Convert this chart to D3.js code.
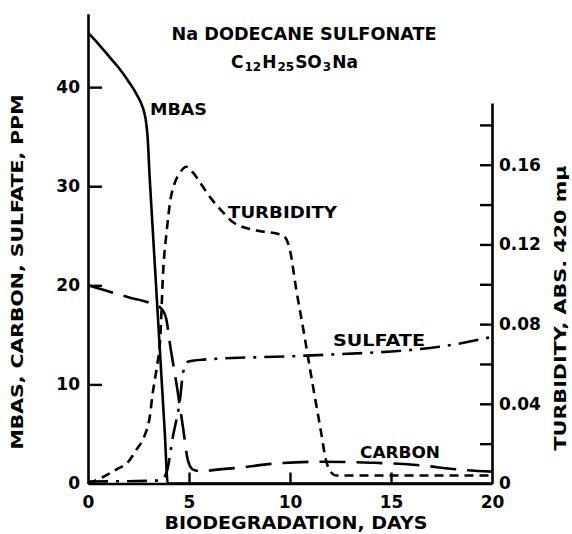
<!DOCTYPE html>
<html>
<head>
<meta charset="utf-8">
<script src="https://cdn.jsdelivr.net/npm/d3@7"></script>
<style>
  html, body { margin: 0; padding: 0; background: #fff; }
  svg text { font-family: "DejaVu Sans", sans-serif; font-weight: bold; fill: #000; }
</style>
</head>
<body>
<svg id="chart" width="572" height="534"></svg>
<script>
// ---- data ----
const mbasDays   = [0, 0.5, 1.0, 1.5, 2.0, 2.4, 2.7, 2.85, 2.95, 3.05, 3.2, 3.4, 3.6, 3.8, 3.95, 20];
const mbasPPM    = [45.5, 44.4, 43.2, 42.0, 40.6, 39.3, 38.0, 36.8, 35.0, 31.0, 25.8, 18.9, 12.0, 5.2, 0, 0];

const turbDays   = [0, 0.7, 1.4, 2.0, 2.4, 2.8, 3.05, 3.2, 3.4, 3.57, 3.73, 3.9, 4.06, 4.3, 4.55, 4.88, 5.2, 5.55, 6.1, 6.7, 7.2, 8.35, 9.5, 9.8, 10.0, 10.3, 10.7, 11.1, 11.5, 11.8, 12.0, 12.3, 20];
const turbAbs    = [0, 0.003, 0.007, 0.011, 0.017, 0.024, 0.033, 0.045, 0.058, 0.072, 0.108, 0.127, 0.141, 0.151, 0.156, 0.159, 0.156, 0.151, 0.143, 0.136, 0.131, 0.127, 0.125, 0.123, 0.117, 0.098, 0.075, 0.051, 0.028, 0.011, 0.006, 0.004, 0.004];

const carbonDays = [0, 1, 2, 3.1, 3.55, 3.85, 4.1, 4.4, 4.7, 4.95, 5.2, 5.7, 6.0, 7.5, 9.2, 11.5, 14, 16.1, 18.4, 20];
const carbonPPM  = [20.0, 19.4, 18.8, 18.2, 17.8, 16.8, 13.5, 9.8, 5.7, 2.3, 1.4, 1.2, 1.3, 1.6, 2.0, 2.2, 2.1, 1.9, 1.4, 1.2];

const sulfDays   = [0, 3.6, 3.9, 4.2, 4.55, 4.72, 4.97, 5.7, 10.8, 17.4, 20];
const sulfPPM    = [0.2, 0.3, 1.2, 4.7, 8.4, 11.3, 12.3, 12.5, 12.9, 13.8, 14.8];

const xTicks     = [0, 5, 10, 15, 20];
const leftTicks  = [0, 10, 20, 30, 40];
const rightTicks = [0, 0.02, 0.04, 0.06, 0.08, 0.10, 0.12, 0.14, 0.16, 0.18];
const rightLabels = ["0", "0.04", "0.08", "0.12", "0.16"];

// ---- drawing ----
const svg = d3.select("#chart");
const x  = d3.scaleLinear().domain([0, 20]).range([88, 492]);
const yL = d3.scaleLinear().domain([0, 47.4]).range([483.5, 13.8]);
const yR = d3.scaleLinear().domain([0, 0.191]).range([483.5, 103]);

function styleAxis(g) {
  g.select(".domain").attr("stroke", "#000").attr("stroke-width", 2.6);
  g.selectAll(".tick line").attr("stroke", "#000").attr("stroke-width", 2.4);
  g.selectAll(".tick text").style("font-size", "17px").attr("fill", "#000");
}

// bottom axis
const gx = svg.append("g").attr("transform", "translate(0,483.5)")
  .call(d3.axisBottom(x).tickValues(xTicks).tickSizeInner(-11).tickSizeOuter(0).tickPadding(12).tickFormat(d3.format("d")));
styleAxis(gx);
gx.selectAll(".tick").filter(d => d === 0 || d === 20).select("line").remove();

// left axis
const gl = svg.append("g").attr("transform", "translate(88,0)")
  .call(d3.axisLeft(yL).tickValues(leftTicks).tickSizeInner(-14).tickSizeOuter(0).tickPadding(8).tickFormat(d3.format("d")));
styleAxis(gl);
gl.selectAll(".tick").filter(d => d === 0).select("line").remove();

// right axis
const gr = svg.append("g").attr("transform", "translate(492,0)")
  .call(d3.axisRight(yR).tickValues(rightTicks).tickSizeInner(-12).tickSizeOuter(0).tickPadding(7)
    .tickFormat(d => { const s = d === 0 ? "0" : d3.format(".2f")(d); return rightLabels.includes(s) ? s : ""; }));
styleAxis(gr);
gr.selectAll(".tick").filter(d => d === 0).select("line").remove();

// series
function drawSeries(days, vals, yScale, dash) {
  const pts = days.map((d, i) => [d, vals[i]]);
  svg.append("path")
    .attr("d", d3.line().x(p => x(p[0])).y(p => yScale(p[1])).curve(d3.curveMonotoneX)(pts))
    .attr("fill", "none").attr("stroke", "#000").attr("stroke-width", 2.6)
    .attr("stroke-linecap", "butt")
    .attr("stroke-dasharray", dash);
}
drawSeries(sulfDays, sulfPPM, yL, "20,8,3,8");
drawSeries(carbonDays, carbonPPM, yL, "26,11");
drawSeries(turbDays, turbAbs, yR, "9,6");
drawSeries(mbasDays, mbasPPM, yL, null);

// title
svg.append("text").attr("x", 304).attr("y", 40).attr("text-anchor", "middle")
  .style("font-size", "17px").attr("textLength", 265).attr("lengthAdjust", "spacingAndGlyphs")
  .text("Na DODECANE SULFONATE");
const f = svg.append("text").attr("x", 230).attr("y", 68).style("font-size", "17px");
[["C", 0], ["12", 1], ["H", 0], ["25", 1], ["SO", 0], ["3", 1], ["Na", 0]].forEach(([t, sub], i, arr) => {
  const prevSub = i > 0 && arr[i - 1][1];
  f.append("tspan").text(t)
    .style("font-size", sub ? "12px" : "17px")
    .attr("dy", sub ? 3 : (prevSub ? -3 : 0))
    .attr("dx", 1);
});

// in-plot labels
function label(txt, x0, yc, len, size) {
  svg.append("text").attr("x", x0).attr("y", yc + size * 0.36).style("font-size", size + "px")
    .attr("textLength", len).attr("lengthAdjust", "spacingAndGlyphs").text(txt);
}
label("MBAS", 150, 109, 57, 16);
label("TURBIDITY", 228, 212, 109, 16);
label("SULFATE", 333, 340, 92, 16);
label("CARBON", 360, 452, 80, 16);

// axis titles
svg.append("text").attr("x", 296).attr("y", 529).attr("text-anchor", "middle")
  .style("font-size", "17px").attr("textLength", 263).attr("lengthAdjust", "spacingAndGlyphs")
  .text("BIODEGRADATION,  DAYS");
svg.append("text").attr("transform", "translate(23,272) rotate(-90)").attr("text-anchor", "middle")
  .style("font-size", "15px").attr("textLength", 355).attr("lengthAdjust", "spacingAndGlyphs")
  .text("MBAS, CARBON, SULFATE,    PPM");
svg.append("text").attr("transform", "translate(566,308) rotate(-90)").attr("text-anchor", "middle")
  .style("font-size", "15px").attr("textLength", 285).attr("lengthAdjust", "spacingAndGlyphs")
  .text("TURBIDITY,    ABS.  420 mμ");
</script>
</body>
</html>
